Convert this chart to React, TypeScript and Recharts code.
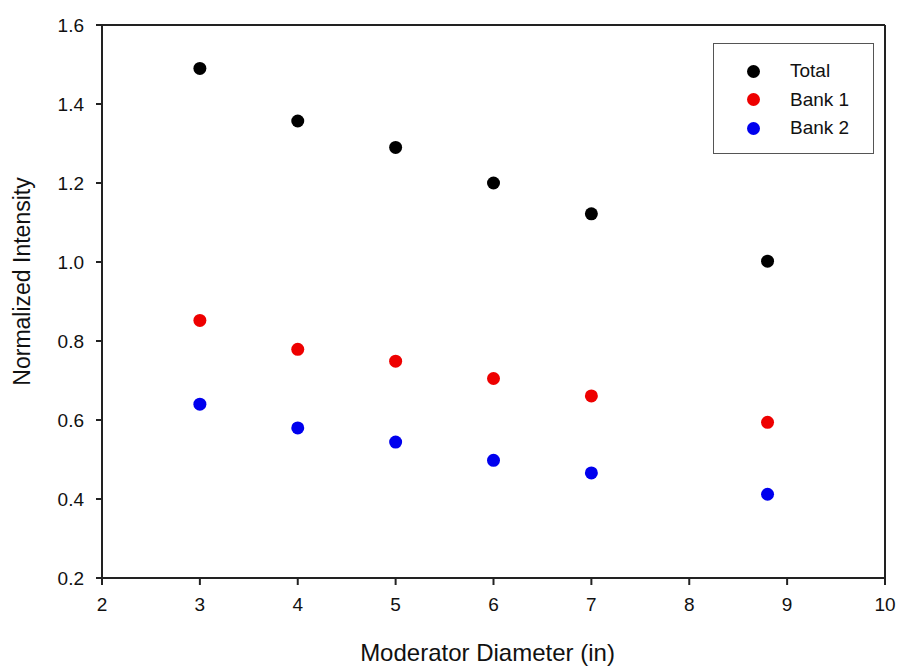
import React from "react";
import {
  ScatterChart,
  Scatter,
  XAxis,
  YAxis,
  Legend,
  ReferenceLine,
} from "recharts";

const diameters = [3, 4, 5, 6, 7, 8.8];
const totalValues = [1.49, 1.357, 1.29, 1.2, 1.122, 1.002];
const bank1Values = [0.852, 0.779, 0.749, 0.705, 0.661, 0.594];
const bank2Values = [0.64, 0.58, 0.544, 0.498, 0.466, 0.412];
const xTicks = [2, 3, 4, 5, 6, 7, 8, 9, 10];
const yTicks = [0.2, 0.4, 0.6, 0.8, 1.0, 1.2, 1.4, 1.6];

const toPoints = (vals: number[]) =>
  diameters.map((d, i) => ({ x: d, y: vals[i] }));

const axisColor = "#222";
const font = "Liberation Sans, Arial, sans-serif";

const Dot = (props: any) => {
  const { cx, cy, fill } = props;
  return <circle cx={cx} cy={cy} r={6.5} fill={fill} />;
};

const legendOrder = ["Total", "Bank 1", "Bank 2"];

const LegendBox = (props: any) => {
  const items = [...(props.payload || [])].sort(
    (a: any, b: any) => legendOrder.indexOf(a.value) - legendOrder.indexOf(b.value)
  );
  return (
    <div
      style={{
        width: 161,
        height: 111,
        border: "1.5px solid #555",
        background: "#fff",
        fontFamily: font,
        fontSize: 19,
        color: "#111",
        boxSizing: "border-box",
        paddingTop: 13,
      }}
    >
      {items.map((it: any) => (
        <div
          key={it.value}
          style={{ display: "flex", alignItems: "center", height: 28.5 }}
        >
          <span
            style={{
              display: "inline-block",
              width: 13,
              height: 13,
              borderRadius: "50%",
              background: it.color,
              marginLeft: 33,
              marginRight: 30,
            }}
          />
          <span>{it.value}</span>
        </div>
      ))}
    </div>
  );
};

// y title sits a bit above the plot's middle in the original
const YTitle = (props: any) => {
  const vb = props.viewBox || {};
  const cx = vb.x - 20;
  const cy = vb.y + vb.height / 2 - 20;
  return (
    <text
      x={cx}
      y={cy}
      transform={`rotate(-90, ${cx}, ${cy})`}
      textAnchor="middle"
      dominantBaseline="central"
      fill="#111"
      fontSize={23}
      fontFamily={font}
    >
      Normalized Intensity
    </text>
  );
};

export default function App() {
  return (
    <div style={{ position: "absolute", left: 0, top: 0, background: "#fff" }}>
      <ScatterChart
        width={901}
        height={667}
        margin={{ top: 25, right: 16, left: 42, bottom: 29 }}
      >
        <XAxis
          type="number"
          dataKey="x"
          domain={[2, 10]}
          ticks={xTicks}
          interval={0}
          height={60}
          stroke={axisColor}
          strokeWidth={2}
          tickSize={7}
          tick={{ fill: "#111", fontSize: 19, fontFamily: font, dy: 11 }}
          label={{
            value: "Moderator Diameter (in)",
            position: "insideBottom",
            offset: -23,
            dx: -6,
            fill: "#111",
            fontSize: 24,
            fontFamily: font,
          }}
        />
        <YAxis
          type="number"
          dataKey="y"
          domain={[0.2, 1.6]}
          ticks={yTicks}
          interval={0}
          width={60}
          stroke={axisColor}
          strokeWidth={2}
          tickSize={6}
          tickFormatter={(v: number) => v.toFixed(1)}
          tick={{ fill: "#111", fontSize: 19, fontFamily: font, dx: -10 }}
          label={{ position: "insideLeft", content: <YTitle /> }}
        />
        <ReferenceLine y={1.6} stroke={axisColor} strokeWidth={2} />
        <ReferenceLine x={10} stroke={axisColor} strokeWidth={2} />
        <Legend
          layout="vertical"
          align="center"
          verticalAlign="middle"
          content={<LegendBox />}
          wrapperStyle={{ position: "absolute", left: 713, top: 43, width: 161 }}
        />
        <Scatter
          name="Total"
          data={toPoints(totalValues)}
          fill="#000000"
          shape={<Dot />}
          isAnimationActive={false}
        />
        <Scatter
          name="Bank 1"
          data={toPoints(bank1Values)}
          fill="#ee0000"
          shape={<Dot />}
          isAnimationActive={false}
        />
        <Scatter
          name="Bank 2"
          data={toPoints(bank2Values)}
          fill="#0000ee"
          shape={<Dot />}
          isAnimationActive={false}
        />
      </ScatterChart>
    </div>
  );
}
